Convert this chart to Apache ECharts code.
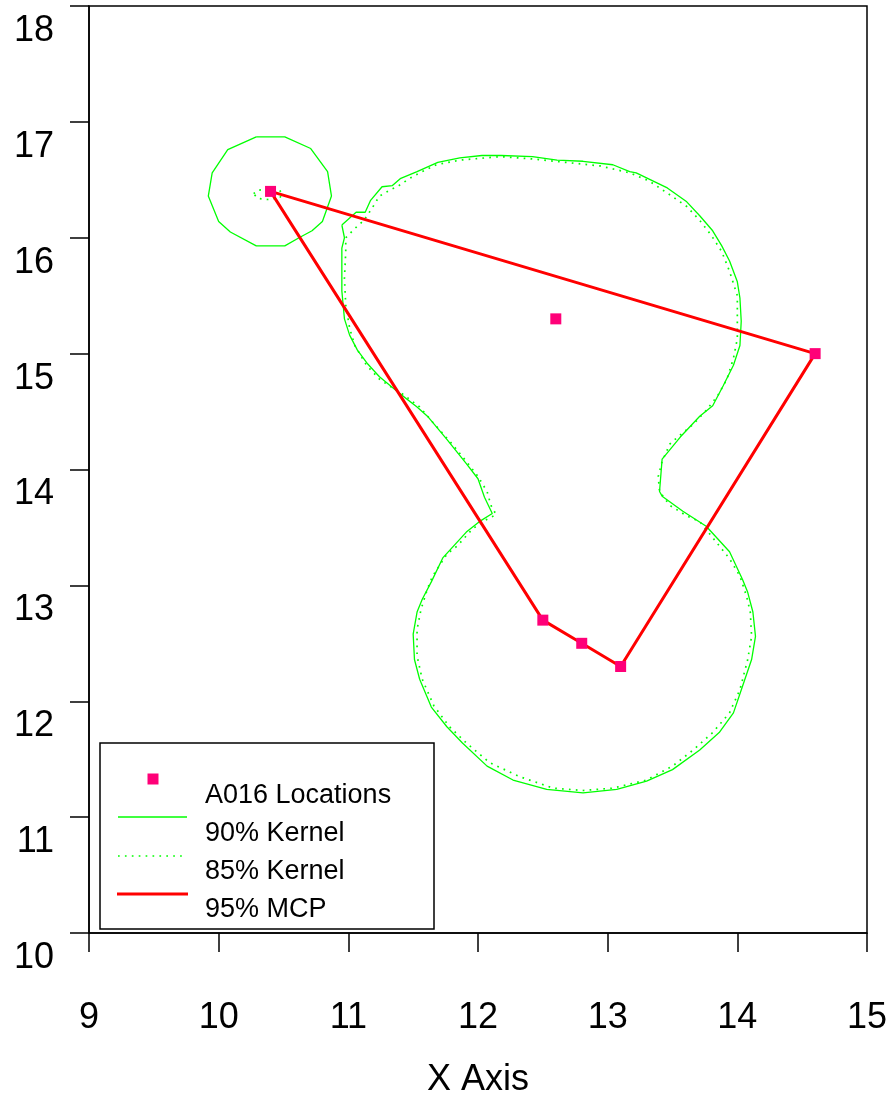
<!DOCTYPE html>
<html>
<head>
<meta charset="utf-8">
<script src="https://cdn.jsdelivr.net/npm/echarts@6/dist/echarts.min.js"></script>
<style>
  html, body { margin: 0; padding: 0; background: #fff; }
  #chart { width: 895px; height: 1093px; }
</style>
</head>
<body>
<div id="chart"></div>
<script>
// Relocation points for animal A016
const locations = [
  [10.4, 16.4], [12.6, 15.3], [14.6, 15.0],
  [12.5, 12.7], [12.8, 12.5], [13.1, 12.3]
];

// 95% minimum convex polygon (closed)
const mcp95 = [
  [10.4, 16.4], [14.6, 15.0], [13.1, 12.3], [12.8, 12.5], [12.5, 12.7], [10.4, 16.4]
];

// 90% kernel isopleth: main body (upper lobe + lower lobe)
const kernel90Main = [
  [10.95, 16.11], [11.06, 16.22], [11.13, 16.22], [11.17, 16.32], [11.26, 16.44],
  [11.34, 16.45], [11.40, 16.51], [11.53, 16.57], [11.69, 16.65], [11.86, 16.69],
  [12.03, 16.71], [12.18, 16.71], [12.42, 16.70], [12.61, 16.67], [12.81, 16.66],
  [13.04, 16.63], [13.17, 16.57], [13.22, 16.56], [13.46, 16.43], [13.61, 16.31],
  [13.71, 16.19], [13.81, 16.06], [13.88, 15.93], [13.94, 15.80], [14.00, 15.62],
  [14.02, 15.48], [14.03, 15.28], [14.02, 15.07], [13.97, 14.90], [13.89, 14.72],
  [13.81, 14.55], [13.71, 14.46], [13.56, 14.28], [13.42, 14.09], [13.40, 13.81],
  [13.42, 13.77], [13.58, 13.64], [13.76, 13.51], [13.94, 13.29], [14.04, 13.05],
  [14.08, 12.94], [14.12, 12.77], [14.14, 12.56], [14.11, 12.36], [14.04, 12.13],
  [13.97, 11.90], [13.86, 11.73], [13.71, 11.58], [13.50, 11.41], [13.30, 11.31],
  [13.07, 11.24], [12.81, 11.21], [12.53, 11.24], [12.27, 11.32], [12.07, 11.44],
  [11.88, 11.64], [11.76, 11.78], [11.64, 11.95], [11.55, 12.19], [11.51, 12.36],
  [11.50, 12.58], [11.53, 12.77], [11.57, 12.88], [11.64, 13.03], [11.73, 13.24],
  [11.91, 13.46], [12.01, 13.55], [12.11, 13.62], [12.05, 13.76], [12.00, 13.92],
  [11.91, 14.05], [11.76, 14.26], [11.61, 14.46], [11.53, 14.54], [11.38, 14.67],
  [11.24, 14.80], [11.15, 14.91], [11.07, 15.03], [11.01, 15.16], [10.97, 15.30],
  [10.95, 15.54], [10.95, 15.76], [10.95, 15.91], [10.97, 16.00], [10.95, 16.11]
];

// 90% kernel isopleth: isolated ring around the north-west fix
const kernel90Ring = [
  [10.29, 16.87], [10.51, 16.87], [10.71, 16.77], [10.84, 16.57], [10.87, 16.36],
  [10.80, 16.14], [10.72, 16.06], [10.62, 16.00], [10.51, 15.93], [10.29, 15.93],
  [10.09, 16.05], [10.00, 16.14], [9.92, 16.36], [9.95, 16.56], [10.07, 16.76],
  [10.29, 16.87]
];

// 85% kernel isopleth: main body
const kernel85Main = [
  [10.98, 16.00], [11.05, 16.08], [11.12, 16.15], [11.18, 16.25], [11.24, 16.36],
  [11.32, 16.41], [11.39, 16.45], [11.47, 16.51], [11.55, 16.56], [11.68, 16.63],
  [11.86, 16.67], [12.17, 16.70], [12.42, 16.68], [12.68, 16.65], [12.94, 16.62],
  [13.17, 16.56], [13.32, 16.49], [13.48, 16.37], [13.61, 16.27], [13.71, 16.15],
  [13.80, 16.02], [13.88, 15.88], [13.94, 15.71], [14.00, 15.50], [14.00, 15.33],
  [14.00, 15.13], [13.97, 14.96], [13.92, 14.78], [13.85, 14.64], [13.76, 14.51],
  [13.66, 14.39], [13.54, 14.28], [13.48, 14.22], [13.42, 14.07], [13.39, 13.94],
  [13.40, 13.81], [13.48, 13.69], [13.61, 13.60], [13.71, 13.55], [13.84, 13.37],
  [13.94, 13.23], [14.02, 13.08], [14.07, 12.91], [14.10, 12.77], [14.11, 12.56],
  [14.08, 12.36], [14.02, 12.10], [13.94, 11.90], [13.81, 11.73], [13.66, 11.58],
  [13.50, 11.44], [13.30, 11.32], [13.04, 11.25], [12.81, 11.23], [12.58, 11.25],
  [12.32, 11.35], [12.09, 11.47], [11.91, 11.64], [11.78, 11.78], [11.66, 11.96],
  [11.57, 12.19], [11.53, 12.39], [11.53, 12.62], [11.56, 12.79], [11.61, 12.97],
  [11.65, 13.08], [11.76, 13.27], [11.84, 13.34], [11.96, 13.49], [12.07, 13.57],
  [12.14, 13.61], [12.10, 13.69], [12.07, 13.81], [12.00, 13.94], [11.91, 14.07],
  [11.80, 14.22], [11.65, 14.41], [11.55, 14.54], [11.42, 14.65], [11.32, 14.72],
  [11.24, 14.78], [11.14, 14.90], [11.05, 15.07], [11.01, 15.22], [10.98, 15.42],
  [10.97, 15.65], [10.98, 15.88], [10.98, 16.00]
];

// 85% kernel isopleth: small ring at the north-west fix
const kernel85Ring = [
  [10.27, 16.38], [10.30, 16.41], [10.38, 16.42], [10.47, 16.41], [10.49, 16.38],
  [10.47, 16.34], [10.38, 16.33], [10.30, 16.34], [10.27, 16.38]
];

const legendLabels = ['A016 Locations', '90% Kernel', '85% Kernel', '95% MCP'];
const xAxisTitle = 'X Axis';

const COL_POINT = '#FF0078';
const COL_KERNEL = '#00FF00';
const COL_MCP = '#FF0000';
const FONT = '"Liberation Sans", Arial, sans-serif';

const chart = echarts.init(document.getElementById('chart'), null, { renderer: 'canvas' });

const solidKernel = { color: COL_KERNEL, width: 1.3, type: 'solid' };
const dottedKernel = { color: COL_KERNEL, width: 1.7, type: [1.7, 5.2] };

function pathSeries(data, lineStyle, z) {
  return {
    type: 'line', data: data, symbol: 'none', smooth: false,
    lineStyle: lineStyle, z: z, silent: true, animation: false
  };
}

chart.setOption({
  animation: false,
  backgroundColor: '#fff',
  grid: {
    left: 89, right: 28, top: 6, bottom: 160,
    containLabel: false, outerBoundsMode: 'none',
    show: true, borderColor: '#000', borderWidth: 1.5, backgroundColor: 'transparent'
  },
  xAxis: {
    type: 'value', min: 9, max: 15, interval: 1,
    name: xAxisTitle, nameLocation: 'middle', nameGap: 129,
    nameTextStyle: { fontSize: 36, fontFamily: FONT, color: '#000' },
    axisLine: { show: true, onZero: false, lineStyle: { color: '#000', width: 1.5 } },
    axisTick: { show: true, inside: false, length: 19, lineStyle: { color: '#000', width: 1.5 } },
    axisLabel: { fontSize: 36, fontFamily: FONT, color: '#000', margin: 67 },
    splitLine: { show: false }
  },
  yAxis: {
    type: 'value', min: 10, max: 18, interval: 1,
    axisLine: { show: true, onZero: false, lineStyle: { color: '#000', width: 1.5 } },
    axisTick: { show: true, inside: false, length: 19, lineStyle: { color: '#000', width: 1.5 } },
    axisLabel: {
      fontSize: 36, fontFamily: FONT, color: '#000', margin: 35,
      verticalAlign: 'top', lineHeight: 50
    },
    splitLine: { show: false }
  },
  series: [
    pathSeries(kernel90Main, solidKernel, 2),
    pathSeries(kernel90Ring, solidKernel, 2),
    pathSeries(kernel85Main, dottedKernel, 2),
    pathSeries(kernel85Ring, dottedKernel, 2),
    pathSeries(mcp95, { color: COL_MCP, width: 3, type: 'solid' }, 3),
    {
      type: 'scatter', data: locations, symbol: 'rect', symbolSize: 11,
      itemStyle: { color: COL_POINT, opacity: 1 }, z: 4, silent: true
    }
  ],
  graphic: [
    {
      type: 'rect', z: 100,
      shape: { x: 100, y: 743, width: 334, height: 186 },
      style: { fill: '#fff', stroke: '#000', lineWidth: 1.5 }
    },
    {
      type: 'rect', z: 101,
      shape: { x: 147.5, y: 773.5, width: 11, height: 11 },
      style: { fill: COL_POINT }
    },
    {
      type: 'line', z: 101,
      shape: { x1: 118, y1: 817, x2: 187, y2: 817 },
      style: { stroke: COL_KERNEL, lineWidth: 1.3 }
    },
    {
      type: 'line', z: 101,
      shape: { x1: 118, y1: 856, x2: 187, y2: 856 },
      style: { stroke: COL_KERNEL, lineWidth: 1.7, lineDash: [1.7, 5.2] }
    },
    {
      type: 'line', z: 101,
      shape: { x1: 117, y1: 894, x2: 188, y2: 894 },
      style: { stroke: COL_MCP, lineWidth: 3 }
    },
    ...legendLabels.map((t, i) => ({
      type: 'text', z: 101,
      x: 205, y: [796, 834, 872, 910][i],
      style: {
        text: t, fill: '#000', font: '27px ' + FONT,
        verticalAlign: 'middle', align: 'left'
      }
    }))
  ]
});
</script>
</body>
</html>
